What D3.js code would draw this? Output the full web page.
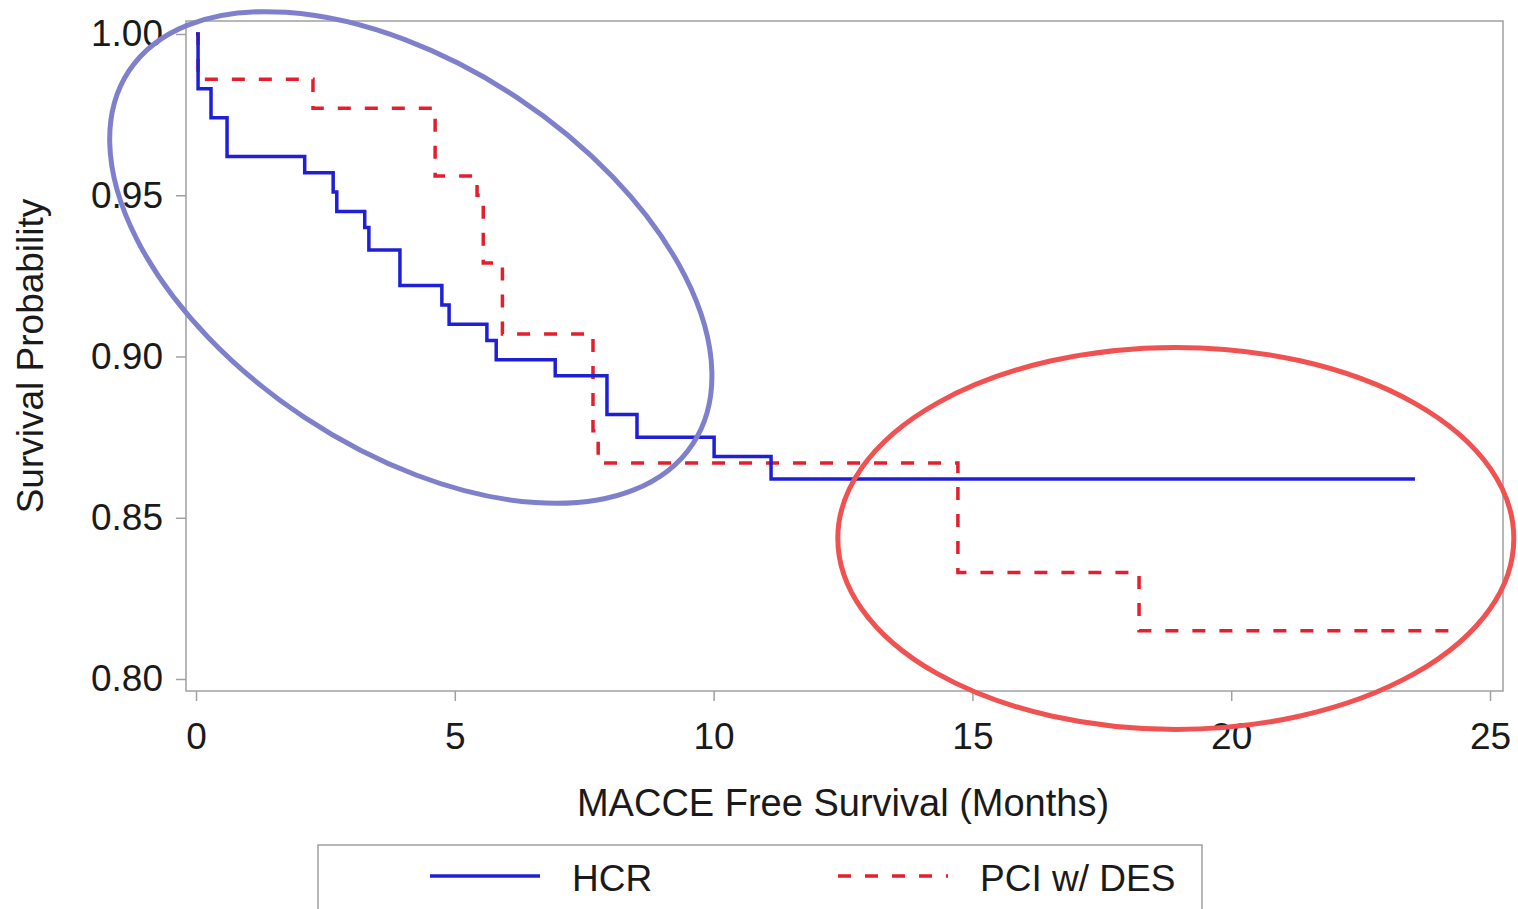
<!DOCTYPE html>
<html>
<head>
<meta charset="utf-8">
<script src="https://cdn.jsdelivr.net/npm/d3@7"></script>
<style>
  html, body { margin: 0; padding: 0; background: #fff; }
  svg { display: block; }
  text { font-family: "Liberation Sans", Arial, sans-serif; fill: #1a1a1a; }
</style>
</head>
<body>
<svg id="chart" width="1518" height="909"></svg>
<script>
// ---- Data ----
const hcrTimes = [0, 0.04, 0.29, 0.60, 2.10, 2.65, 2.72, 3.26, 3.34, 3.94, 4.75, 4.89, 5.62, 5.80, 6.94, 7.94, 8.52, 10.01, 11.11, 23.55];
const hcrSurv  = [1.000, 0.983, 0.974, 0.962, 0.957, 0.951, 0.945, 0.940, 0.933, 0.922, 0.916, 0.910, 0.905, 0.899, 0.894, 0.882, 0.875, 0.869, 0.862, 0.862];

const pciTimes = [0, 0.04, 2.26, 4.62, 5.43, 5.55, 5.92, 7.67, 7.77, 14.72, 18.22, 24.21];
const pciSurv  = [1.000, 0.986, 0.977, 0.956, 0.950, 0.929, 0.907, 0.877, 0.867, 0.833, 0.815, 0.815];

const xTicks = [0, 5, 10, 15, 20, 25];
const yTicks = [0.80, 0.85, 0.90, 0.95, 1.00];
const seriesNames = ["HCR", "PCI w/ DES"];
const xTitle = "MACCE Free Survival (Months)";
const yTitle = "Survival Probability";

// annotation ellipse centres in data units
const blueEllipseCenter = [4.15, 0.9307];
const redEllipseCenter = [18.93, 0.8436];

// ---- Chart ----
const svg = d3.select("#chart");
const frame = {left: 186, right: 1503, top: 21, bottom: 691};
const x = d3.scaleLinear().domain([0, 25]).range([196, 1490]);
const y = d3.scaleLinear().domain([0.80, 1.00]).range([679, 34]);

// frame
svg.append("rect")
  .attr("x", frame.left).attr("y", frame.top)
  .attr("width", frame.right - frame.left).attr("height", frame.bottom - frame.top)
  .attr("fill", "none").attr("stroke", "#a0a0a0").attr("stroke-width", 1.5);

// axes
const fs = 37;
const yAxis = svg.append("g").attr("transform", `translate(${frame.left},0)`)
  .call(d3.axisLeft(y).tickValues(yTicks).tickFormat(d3.format(".2f")).tickSize(10).tickPadding(13));
const xAxis = svg.append("g").attr("transform", `translate(0,${frame.bottom})`)
  .call(d3.axisBottom(x).tickValues(xTicks).tickFormat(d3.format("d")).tickSize(10).tickPadding(22));
[xAxis, yAxis].forEach(g => {
  g.select(".domain").remove();
  g.selectAll(".tick line").attr("stroke", "#a0a0a0").attr("stroke-width", 1.5);
  g.selectAll(".tick text").attr("font-size", fs).attr("fill", "#1a1a1a")
    .style("font-family", '"Liberation Sans", Arial, sans-serif');
});

// axis titles
svg.append("text").attr("x", 843).attr("y", 816).attr("text-anchor", "middle")
  .attr("font-size", 38).text(xTitle);
svg.append("text").attr("transform", "translate(43,356) rotate(-90)")
  .attr("text-anchor", "middle").attr("font-size", fs).text(yTitle);

// curves
const line = d3.line().curve(d3.curveStepAfter).x(d => x(d[0])).y(d => y(d[1]));
const hcr = hcrTimes.map((t, i) => [t, hcrSurv[i]]);
const pci = pciTimes.map((t, i) => [t, pciSurv[i]]);

const blue = "#1f1fd6", red = "#e41e2c";
svg.append("path").datum(pci).attr("d", line)
  .attr("fill", "none").attr("stroke", red).attr("stroke-width", 3.5)
  .attr("stroke-dasharray", "13,14");
svg.append("path").datum(hcr).attr("d", line)
  .attr("fill", "none").attr("stroke", blue).attr("stroke-width", 3.5);

// annotations
svg.append("ellipse")
  .attr("cx", x(blueEllipseCenter[0])).attr("cy", y(blueEllipseCenter[1]))
  .attr("rx", 338).attr("ry", 192)
  .attr("transform", `rotate(33.5,${x(blueEllipseCenter[0])},${y(blueEllipseCenter[1])})`)
  .attr("fill", "none").attr("stroke", "#7f80cc").attr("stroke-width", 5);
svg.append("ellipse")
  .attr("cx", x(redEllipseCenter[0])).attr("cy", y(redEllipseCenter[1]))
  .attr("rx", 338).attr("ry", 191)
  .attr("fill", "none").attr("stroke", "#f05252").attr("stroke-width", 5);

// legend
svg.append("rect").attr("x", 318).attr("y", 845).attr("width", 884).attr("height", 100)
  .attr("fill", "none").attr("stroke", "#a0a0a0").attr("stroke-width", 1.5);
const legendItems = [
  {name: seriesNames[0], color: blue, dash: null, x0: 430, tx: 572},
  {name: seriesNames[1], color: red, dash: "13,14", x0: 838, tx: 980}
];
legendItems.forEach(it => {
  svg.append("line").attr("x1", it.x0).attr("x2", it.x0 + 110).attr("y1", 876).attr("y2", 876)
    .attr("stroke", it.color).attr("stroke-width", 3.5)
    .attr("stroke-dasharray", it.dash);
  svg.append("text").attr("x", it.tx).attr("y", 891).attr("font-size", fs).text(it.name);
});
</script>
</body>
</html>
